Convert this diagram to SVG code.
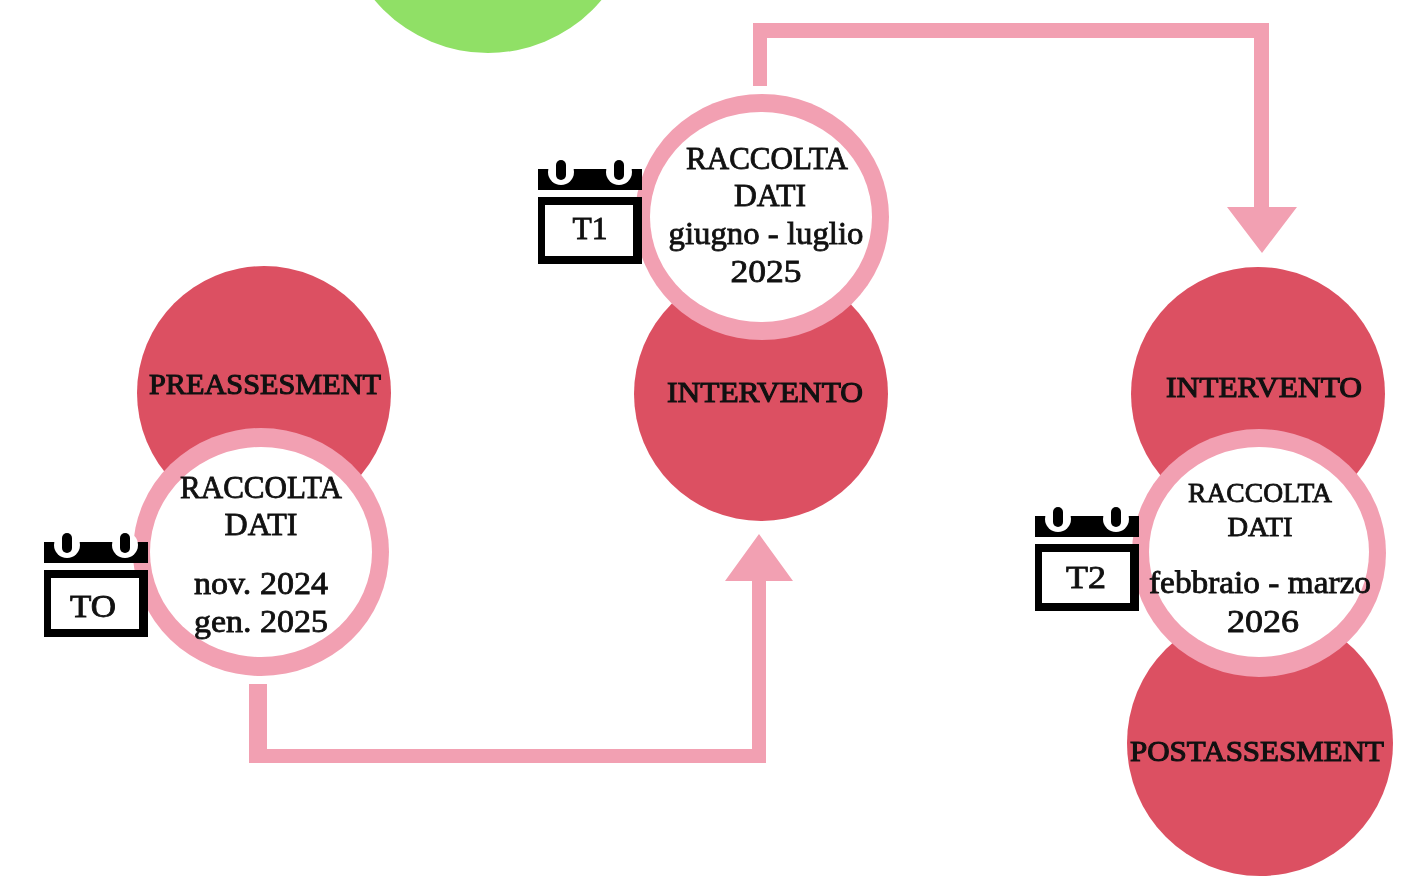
<svg xmlns="http://www.w3.org/2000/svg" width="1409" height="879" viewBox="0 0 1409 879">
<style>
.red{fill:#dc5062}
.ringo{fill:#f2a0b2}
.ringi{fill:#fff}
.conn{fill:#f2a0b2}
text{font-family:"Liberation Serif","DejaVu Serif",serif;fill:#111;text-anchor:middle;stroke:#111;stroke-width:.8;filter:blur(.4px)}
.t{font-size:31px}
.b{font-size:30px;stroke-width:1.1}
.k{fill:#000}
.w{fill:#fff}
</style>
<defs>
<g id="cal">
<rect class="k" x="0" y="9" width="104" height="21"/>
<circle class="w" cx="23" cy="12" r="13"/>
<circle class="w" cx="81" cy="12" r="13"/>
<rect class="k" x="18" y="0" width="10" height="20" rx="5"/>
<rect class="k" x="76" y="0" width="10" height="20" rx="5"/>
<rect class="k" x="0" y="37" width="104" height="67"/>
<rect class="w" x="7" y="45" width="88" height="51"/>
</g>
</defs>
<rect width="1409" height="879" fill="#fff"/>
<circle id="top-green" cx="488" cy="-95" r="148" fill="#90e066"/>
<g id="connectors">
<path class="conn" d="M249 684H267V749H752V581H725L759 534L793 581H766V763H249Z"/>
<path class="conn" d="M753 86V23H1269V207H1297L1262 253L1227 207H1254V38H767V86Z"/>
</g>
<g id="preassesment"><circle class="red" cx="264" cy="393" r="127"/><text class="b" x="265" y="394" textLength="232" lengthAdjust="spacingAndGlyphs">PREASSESMENT</text></g>
<g id="intervento-1"><circle class="red" cx="761" cy="394" r="127"/><text class="b" x="765" y="402" textLength="196" lengthAdjust="spacingAndGlyphs">INTERVENTO</text></g>
<g id="intervento-2"><circle class="red" cx="1258" cy="394" r="127"/><text class="b" x="1264" y="397" textLength="196" lengthAdjust="spacingAndGlyphs">INTERVENTO</text></g>
<g id="postassesment"><circle class="red" cx="1260" cy="743" r="133"/><text class="b" x="1257" y="761" textLength="254" lengthAdjust="spacingAndGlyphs">POSTASSESMENT</text></g>
<g id="raccolta-t0"><ellipse class="ringo" cx="261" cy="552" rx="128" ry="124"/><ellipse class="ringi" cx="261" cy="552" rx="111" ry="105"/>
<text class="t" x="261" y="498" textLength="162" lengthAdjust="spacingAndGlyphs">RACCOLTA</text>
<text class="t" x="261" y="535" textLength="73" lengthAdjust="spacingAndGlyphs">DATI</text>
<text class="t" x="261" y="594" textLength="134" lengthAdjust="spacingAndGlyphs">nov. 2024</text>
<text class="t" x="261" y="632" textLength="134" lengthAdjust="spacingAndGlyphs">gen. 2025</text></g>
<g id="raccolta-t1"><ellipse class="ringo" cx="762" cy="217" rx="127" ry="123"/><ellipse class="ringi" cx="761" cy="217" rx="111" ry="105"/>
<text class="t" x="767" y="169" textLength="162" lengthAdjust="spacingAndGlyphs">RACCOLTA</text>
<text class="t" x="770" y="206" textLength="72" lengthAdjust="spacingAndGlyphs">DATI</text>
<text class="t" x="766" y="244" textLength="195" lengthAdjust="spacingAndGlyphs">giugno - luglio</text>
<text class="t" x="766" y="282" textLength="71" lengthAdjust="spacingAndGlyphs">2025</text></g>
<g id="raccolta-t2"><ellipse class="ringo" cx="1259" cy="553" rx="127" ry="124"/><ellipse class="ringi" cx="1259" cy="552" rx="110" ry="105"/>
<text class="t" style="font-size:27px" x="1260" y="502" textLength="144" lengthAdjust="spacingAndGlyphs">RACCOLTA</text>
<text class="t" style="font-size:27px" x="1260" y="536" textLength="65" lengthAdjust="spacingAndGlyphs">DATI</text>
<text class="t" x="1260" y="593" textLength="222" lengthAdjust="spacingAndGlyphs">febbraio - marzo</text>
<text class="t" x="1263" y="632" textLength="72" lengthAdjust="spacingAndGlyphs">2026</text></g>
<g id="cal-t0"><use href="#cal" x="44" y="533"/><text class="t" x="93" y="617" textLength="46" lengthAdjust="spacingAndGlyphs">TO</text></g>
<g id="cal-t1"><use href="#cal" x="538" y="160"/><text class="t" x="590" y="239" textLength="35" lengthAdjust="spacingAndGlyphs">T1</text></g>
<g id="cal-t2"><use href="#cal" x="1035" y="507"/><text class="t" x="1086" y="588" textLength="40" lengthAdjust="spacingAndGlyphs">T2</text></g>
</svg>
